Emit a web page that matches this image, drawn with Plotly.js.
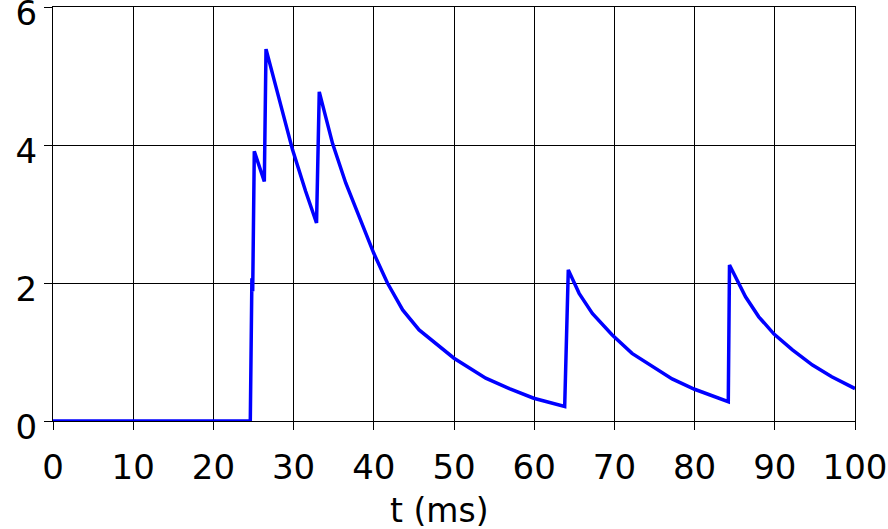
<!DOCTYPE html>
<html>
<head>
<meta charset="utf-8">
<script src="https://cdn.plot.ly/plotly-3.0.1.min.js"></script>
<style>
  html, body { margin: 0; padding: 0; background: #fff; }
  #plt0 { width: 888px; height: 529px; }
</style>
</head>
<body>
<div id="plt0"></div>
<script>
// values
var t = [0, 24.6, 24.8, 24.9, 25.1, 26.35,
         26.56, 28.2, 29.87, 31.5, 32.86,
         33.2, 34.86, 36.5, 38.2, 40, 41.7, 43.6, 45.65, 47.7, 50, 53.96, 56.9, 59.94, 63.8,
         64.25, 65.6, 67.25, 69.7, 72.2, 74.7, 77.2, 80, 84.2,
         84.35, 86.35, 88.0, 89.9, 92.2, 94.7, 97.1, 100];
var v = [0, 0, 2.07, 1.88, 3.91, 3.47,
         5.39, 4.68, 3.93, 3.33, 2.87,
         4.77, 4.02, 3.45, 2.94, 2.43, 2.0, 1.61, 1.32, 1.12, 0.91, 0.62, 0.47, 0.33, 0.21,
         2.19, 1.85, 1.56, 1.25, 0.98, 0.79, 0.61, 0.46, 0.28,
         2.26, 1.80, 1.51, 1.26, 1.03, 0.81, 0.64, 0.47];
var xTicks = [0, 10, 20, 30, 40, 50, 60, 70, 80, 90, 100];
var yTicks = [0, 2, 4, 6];
var xLabel = 't (ms)';

var fontFam = 'DejaVu Sans, sans-serif';
var tickFont = { family: fontFam, size: 34, color: '#000' };

var data0 = [{
    x: t,
    y: v,
    type: 'scatter',
    mode: 'lines',
    line: { color: '#0000ff', width: 3.5 },
    hoverinfo: 'skip'
}];

var layout0 = {
    width: 888,
    height: 529,
    margin: { l: 53, r: 33, t: 7, b: 108 },
    paper_bgcolor: '#fff',
    plot_bgcolor: '#fff',
    showlegend: false,
    font: tickFont,
    xaxis: {
        range: [0, 100],
        tickvals: xTicks,
        ticktext: xTicks.map(String),
        showgrid: true,
        gridcolor: '#000',
        gridwidth: 1,
        zeroline: false,
        showline: true,
        mirror: true,
        linecolor: '#000',
        linewidth: 1,
        ticks: 'outside',
        ticklen: 8,
        tickcolor: '#000',
        ticklabelstandoff: 8,
        ticklabeloverflow: 'allow',
        automargin: false,
        tickfont: tickFont
    },
    yaxis: {
        range: [0, 6],
        tickvals: yTicks,
        ticktext: yTicks.map(String),
        showgrid: true,
        gridcolor: '#000',
        gridwidth: 1,
        zeroline: false,
        showline: true,
        mirror: true,
        linecolor: '#000',
        linewidth: 1,
        ticks: 'outside',
        ticklen: 8,
        tickcolor: '#000',
        ticklabelshift: 6,
        ticklabeloverflow: 'allow',
        automargin: false,
        tickfont: tickFont
    },
    annotations: [{
        text: xLabel,
        xref: 'paper', yref: 'paper',
        x: 0.482, y: 0,
        xanchor: 'center', yanchor: 'middle',
        yshift: -89,
        showarrow: false,
        font: { family: fontFam, size: 33, color: '#000' }
    }]
};

Plotly.newPlot(document.getElementById('plt0'), data0, layout0, { displayModeBar: false, staticPlot: true });
</script>
</body>
</html>
